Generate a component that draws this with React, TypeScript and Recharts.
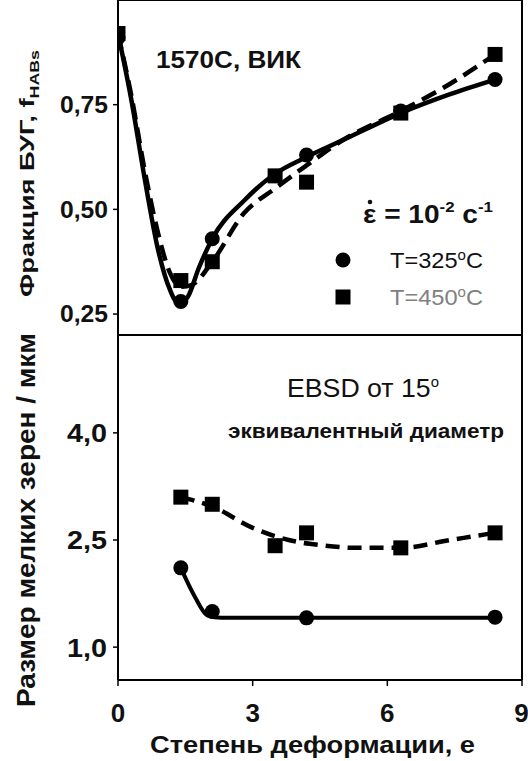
import React from "react";
import { ComposedChart, Line, Scatter, XAxis, YAxis } from "recharts";

// ---- axes ----
const xTicks = [0, 3, 6, 9];
const topYTicks = [0.25, 0.5, 0.75];
const bottomYTicks = [1.0, 2.5, 4.0];
const topDomain = [0.2, 1.0];
const bottomDomain = [0.54, 5.37];

// ---- top panel: HAB fraction (measured points) ----
const hab325X = [0, 1.4, 2.1, 4.2, 6.3, 8.4];
const hab325Y = [0.91, 0.28, 0.43, 0.63, 0.735, 0.81];
const hab450X = [0, 1.4, 2.1, 3.5, 4.2, 6.3, 8.4];
const hab450Y = [0.92, 0.33, 0.375, 0.58, 0.565, 0.73, 0.87];

// ---- top panel: fitted curves ----
const habFit325X = [0, 0.3, 0.6, 0.9, 1.15, 1.35, 1.55, 1.8, 2.1, 2.8, 3.5, 4.2, 5.0, 6.3, 7.4, 8.4];
const habFit325Y = [0.92, 0.76, 0.57, 0.4, 0.31, 0.275, 0.29, 0.36, 0.43, 0.52, 0.585, 0.625, 0.665, 0.73, 0.775, 0.81];
const habFit450X = [0, 0.3, 0.6, 0.9, 1.15, 1.4, 1.65, 2.1, 2.8, 3.5, 4.2, 5.0, 6.3, 7.4, 8.4];
const habFit450Y = [0.92, 0.77, 0.59, 0.44, 0.35, 0.315, 0.32, 0.375, 0.49, 0.55, 0.605, 0.665, 0.735, 0.8, 0.87];

// ---- bottom panel: fine grain size (measured points) ----
const size325X = [1.4, 2.1, 4.2, 8.4];
const size325Y = [2.11, 1.5, 1.41, 1.42];
const size450X = [1.4, 2.1, 3.5, 4.2, 6.3, 8.4];
const size450Y = [3.1, 3.0, 2.42, 2.6, 2.39, 2.6];

// ---- bottom panel: fitted curves ----
const sizeFit325X = [1.4, 1.7, 2.0, 2.3, 8.4];
const sizeFit325Y = [2.11, 1.72, 1.44, 1.41, 1.41];
const sizeFit450X = [1.4, 2.1, 3.0, 3.8, 4.5, 5.3, 6.3, 7.4, 8.4];
const sizeFit450Y = [3.1, 2.97, 2.67, 2.5, 2.43, 2.39, 2.39, 2.5, 2.6];

const zip = (xs: number[], ys: number[]) => xs.map((x, i) => ({ x, y: ys[i] }));

const FONT = "'Liberation Sans', Arial, sans-serif";

const Circle = (p: any) => <circle cx={p.cx} cy={p.cy} r={7.5} fill="#000" />;
const Square = (p: any) => <rect x={p.cx - 7.5} y={p.cy - 7.5} width={15} height={15} fill="#000" />;

const axisLine = { stroke: "#000", strokeWidth: 2 };
const tickLine = { stroke: "#000", strokeWidth: 1.5 };

const makeYTick = (digits: number, fontSize: number, len: number) => (p: any) => (
  <text x={p.x} y={p.y} dy="0.36em" textAnchor="end" fontSize={fontSize} fontWeight="bold"
    fontFamily={FONT} fill="#111" textLength={len} lengthAdjust="spacingAndGlyphs">
    {Number(p.payload.value).toFixed(digits).replace(".", ",")}
  </text>
);

function TopPanel() {
  return (
    <ComposedChart width={528} height={340} margin={{ top: 0, right: 6, left: 0, bottom: 0 }}>
      <XAxis xAxisId="b" type="number" dataKey="x" domain={[0, 9]} ticks={xTicks} height={5}
        tick={false} tickLine={false} axisLine={axisLine} allowDataOverflow />
      <XAxis xAxisId="t" orientation="top" type="number" dataKey="x" domain={[0, 9]} ticks={xTicks}
        height={16} mirror tickSize={5} tickFormatter={() => ""} tickLine={tickLine} axisLine={axisLine} />
      <YAxis yAxisId="l" type="number" domain={topDomain} ticks={topYTicks} width={118} tickSize={5}
        tickMargin={5} axisLine={axisLine} tickLine={tickLine}
        tick={makeYTick(2, 23, 48)} allowDataOverflow />
      <YAxis yAxisId="r" orientation="right" type="number" domain={topDomain} ticks={topYTicks} width={1}
        mirror tickSize={5} tickFormatter={() => ""} axisLine={axisLine} tickLine={tickLine} />
      <Line xAxisId="b" yAxisId="l" data={zip(habFit450X, habFit450Y)} dataKey="y" type="monotone"
        stroke="#000" strokeWidth={4.5} strokeDasharray="16 8" dot={false} isAnimationActive={false} />
      <Line xAxisId="b" yAxisId="l" data={zip(habFit325X, habFit325Y)} dataKey="y" type="monotone"
        stroke="#000" strokeWidth={4.5} dot={false} isAnimationActive={false} />
      <Scatter xAxisId="b" yAxisId="l" data={zip(hab450X, hab450Y)} dataKey="y" shape={Square} isAnimationActive={false} />
      <Scatter xAxisId="b" yAxisId="l" data={zip(hab325X, hab325Y)} dataKey="y" shape={Circle} isAnimationActive={false} />
    </ComposedChart>
  );
}

function BottomPanel() {
  return (
    <ComposedChart width={528} height={431} margin={{ top: 0, right: 6, left: 0, bottom: 0 }}>
      <XAxis xAxisId="t" orientation="top" type="number" dataKey="x" domain={[0, 9]} ticks={xTicks} height={5}
        tick={false} tickLine={false} axisLine={axisLine} />
      <XAxis xAxisId="b" type="number" dataKey="x" domain={[0, 9]} ticks={xTicks} height={81} tickSize={6}
        tickMargin={18} axisLine={axisLine} tickLine={tickLine}
        tick={{ fill: "#111", fontSize: 26, fontWeight: "bold", fontFamily: FONT }} allowDataOverflow />
      <YAxis yAxisId="l" type="number" domain={bottomDomain} ticks={bottomYTicks} width={118} tickSize={5}
        tickMargin={6} axisLine={axisLine} tickLine={tickLine}
        tick={makeYTick(1, 26, 40)} allowDataOverflow />
      <YAxis yAxisId="r" orientation="right" type="number" domain={bottomDomain} ticks={bottomYTicks} width={1}
        mirror tickSize={5} tickFormatter={() => ""} axisLine={axisLine} tickLine={tickLine} />
      <Line xAxisId="b" yAxisId="l" data={zip(sizeFit450X, sizeFit450Y)} dataKey="y" type="monotone"
        stroke="#000" strokeWidth={4.5} strokeDasharray="14 8" dot={false} isAnimationActive={false} />
      <Line xAxisId="b" yAxisId="l" data={zip(sizeFit325X, sizeFit325Y)} dataKey="y" type="monotone"
        stroke="#000" strokeWidth={4} dot={false} isAnimationActive={false} />
      <Scatter xAxisId="b" yAxisId="l" data={zip(size450X, size450Y)} dataKey="y" shape={Square} isAnimationActive={false} />
      <Scatter xAxisId="b" yAxisId="l" data={zip(size325X, size325Y)} dataKey="y" shape={Circle} isAnimationActive={false} />
    </ComposedChart>
  );
}

export default function App() {
  return (
    <div style={{ position: "fixed", left: 0, top: 0, width: 528, height: 761, background: "#fff", fontFamily: FONT }}>
      <div style={{ position: "absolute", left: 0, top: 330 }}>
        <BottomPanel />
      </div>
      <div style={{ position: "absolute", left: 0, top: 0 }}>
        <TopPanel />
      </div>
      <svg width={528} height={761} style={{ position: "absolute", left: 0, top: 0, pointerEvents: "none" }}
        fontFamily={FONT}>
        <text x={156} y={68} fontSize={24} fontWeight="bold" fill="#111" textLength={145} lengthAdjust="spacingAndGlyphs">1570C, ВИК</text>
        <circle cx={370} cy={202} r={2.3} fill="#111" />
        <text x={363} y={223} fontSize={25} fontWeight="bold" fill="#111" textLength={130} lengthAdjust="spacingAndGlyphs">
          ε = 10<tspan dy={-11} fontSize={15}>-2</tspan>
          <tspan dy={11}> c</tspan>
          <tspan dy={-11} fontSize={15}>-1</tspan>
        </text>
        <circle cx={343} cy={260} r={7.5} fill="#000" />
        <text x={390} y={268} fontSize={22} fill="#111" textLength={93} lengthAdjust="spacingAndGlyphs">
          T=325<tspan dy={-8} fontSize={14}>o</tspan><tspan dy={8}>C</tspan>
        </text>
        <rect x={335.5} y={289.5} width={15} height={15} fill="#000" />
        <text x={390} y={305} fontSize={22} fill="#808080" textLength={93} lengthAdjust="spacingAndGlyphs">
          T=450<tspan dy={-8} fontSize={14}>o</tspan><tspan dy={8}>C</tspan>
        </text>
        <text x={287} y={397} fontSize={25} fill="#111" textLength={152} lengthAdjust="spacingAndGlyphs">
          EBSD от 15<tspan dy={-10} fontSize={14}>o</tspan>
        </text>
        <text x={228} y={438} fontSize={21} fontWeight="bold" fill="#111" textLength={276} lengthAdjust="spacingAndGlyphs">эквивалентный диаметр</text>
        <text x={150} y={753} fontSize={24} fontWeight="bold" fill="#111" textLength={325} lengthAdjust="spacingAndGlyphs">Степень деформации, е</text>
        <text transform="translate(34,297) rotate(-90)" fontSize={20} fontWeight="bold" fill="#111" textLength={247} lengthAdjust="spacingAndGlyphs">
          Фракция БУГ, f<tspan dy={5} fontSize={13}>HABs</tspan>
        </text>
        <text transform="translate(35,707) rotate(-90)" fontSize={25} fontWeight="bold" fill="#111" textLength={374} lengthAdjust="spacingAndGlyphs">
          Размер мелких зерен / мкм
        </text>
      </svg>
    </div>
  );
}
